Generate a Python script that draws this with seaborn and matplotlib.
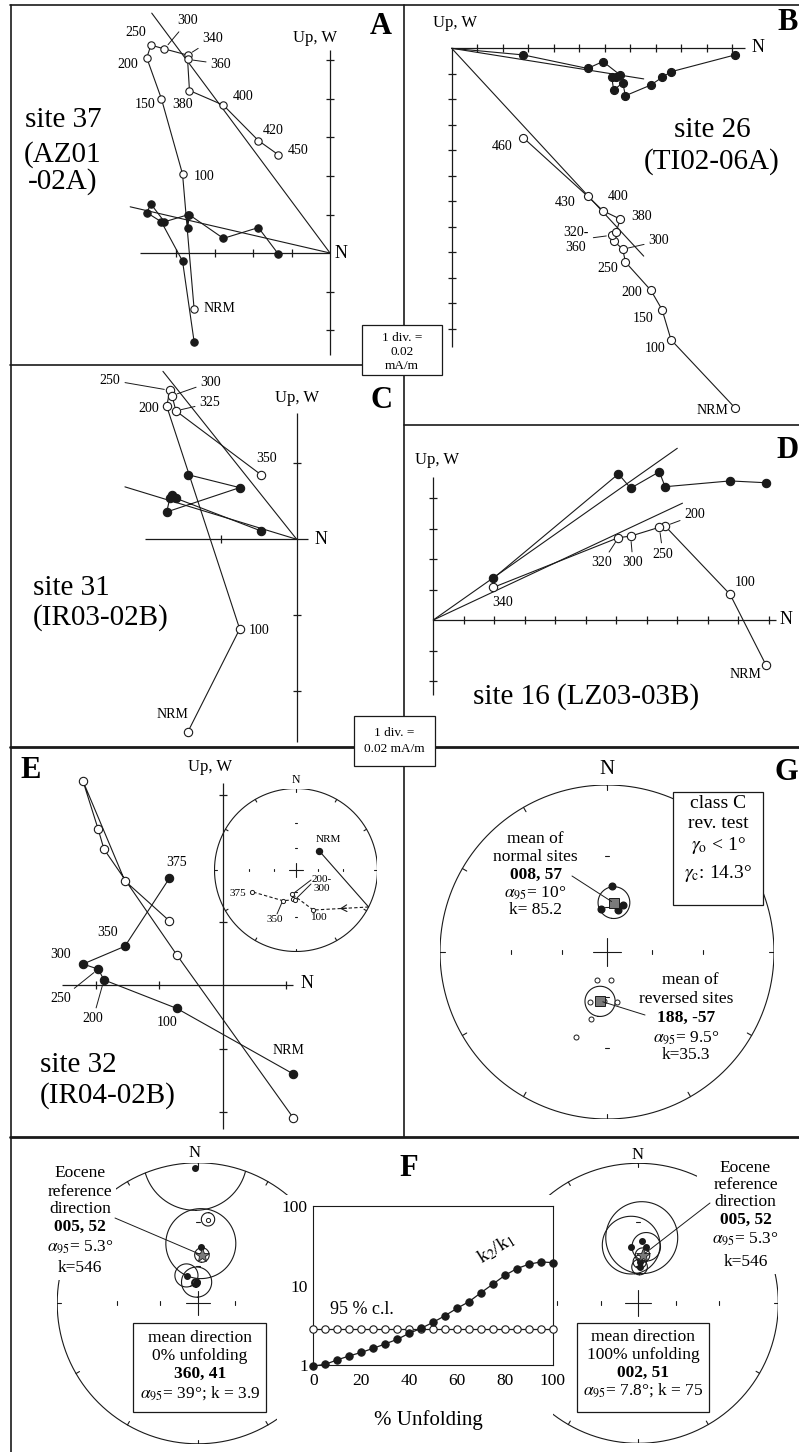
import numpy as np
import pandas as pd
import matplotlib
matplotlib.use("Agg")
import matplotlib.pyplot as plt
from matplotlib.patches import Rectangle
from matplotlib.ticker import FixedLocator, NullFormatter
import seaborn as sns

# ------------------------------------------------------------------ data
# Orthogonal projections in scale divisions (1 div. = 0.02 mA/m).
# North is shared; "up" = vertical plane (open), "west" = horizontal plane (filled).
a_steps = ["NRM", "100", "150", "200", "250", "300", "340", "360", "380", "400", "420", "450"]
a_north = [-3.53, -3.83, -4.38, -4.76, -4.65, -4.30, -3.70, -3.70, -3.65, -2.77, -1.86, -1.34]
a_up = [-1.45, 2.05, 4.01, 5.07, 5.40, 5.30, 5.14, 5.03, 4.22, 3.84, 2.92, 2.55]
a_west = [-2.30, -0.21, 0.81, 1.05, 1.27, 0.81, 0.99, 0.64, 0.99, 0.38, 0.66, -0.03]
a_fit_up = (-4.63, 6.23)
a_fit_w = (-5.19, 1.20)

b_steps = ["NRM", "100", "150", "200", "250", "300", "320", "340", "360", "380", "400", "430", "460"]
b_north = [11.11, 8.60, 8.25, 7.81, 6.81, 6.71, 6.35, 6.28, 6.45, 6.61, 5.93, 5.33, 2.81]
b_up = [-14.10, -11.43, -10.25, -9.49, -8.38, -7.88, -7.55, -7.33, -7.20, -6.70, -6.37, -5.80, -3.51]
b_west = [-0.26, -0.92, -1.14, -1.44, -1.86, -1.35, -1.64, -1.14, -1.14, -1.05, -0.52, -0.79, -0.26]
b_fit_up = (7.53, -8.15)
b_fit_w = (7.53, -1.20)

c_steps = ["NRM", "100", "200", "250", "300", "325", "350"]
c_north = [-1.43, -0.75, -1.71, -1.67, -1.64, -1.59, -0.47]
c_up = [-2.53, -1.18, 1.75, 1.96, 1.89, 1.69, 0.85]
c_west = [0.85, 0.68, 0.36, 0.54, 0.58, 0.54, 0.11]
c_fit_up = (-1.76, 2.21)
c_fit_w = (-2.26, 0.69)

d_steps = ["NRM", "100", "200", "250", "300", "320", "340"]
d_north = [10.91, 9.73, 7.60, 7.41, 6.47, 6.07, 1.97]
d_up = [-1.48, 0.84, 3.08, 3.04, 2.75, 2.70, 1.07]
d_west = [4.50, 4.56, 4.37, 4.86, 4.32, 4.79, 1.37]
d_fit_up = (8.17, 3.83)
d_fit_w = (8.00, 5.63)

e_steps = ["NRM", "100", "200", "250", "300", "350", "375"]
e_north = [1.11, -0.72, -1.87, -1.96, -2.20, -1.54, -0.84]
e_up = [-2.09, 0.47, 2.14, 2.45, 3.21, 1.64, 1.01]
e_west = [-1.40, -0.37, 0.08, 0.25, 0.33, 0.61, 1.68]

# site 32 demagnetisation path on the stereonet (declination, inclination)
e_net_dec = [51.0, 156.6, 188.7, 185.3, 182.0, 203.4, 243.9]
e_net_inc = [49.5, -33.7, -56.4, -50.7, -49.8, -45.4, -27.7]
e_cross_dec = 117.0   # where the path passes through the horizontal

# reversal test: site means
g_norm_dec = [4, 352, 15, 19]
g_norm_inc = [47, 61, 61, 57]
g_rev_dec = [200, 172, 169, 193, 200, 199, 184]
g_rev_inc = [-70, -71, -56, -45, -33, -55, -57]
g_norm_mean = (8, 57, 10.0)
g_rev_mean = (188, -57, 9.5)

# fold test: site means with alpha95 before and after unfolding
f0_dec = [359, 7, 3, 338, 357, 355]
f0_inc = [2, -28, 46, 66, 73, 73.5]
f0_a95 = [21, 4, 24, 9, 12, 3]
f100_dec = [353, 3, 8, 2, 2]
f100_inc = [46, 42, 46, 61, 57]
f100_a95 = [20, 24, 10, 6, 5]
eocene_ref = (5, 52, 5.3)

unfold_pct = [0, 5, 10, 15, 20, 25, 30, 35, 40, 45, 50, 55, 60, 65, 70, 75, 80, 85, 90, 95, 100]
k_ratio = [0.97, 1.02, 1.16, 1.30, 1.44, 1.62, 1.84, 2.10, 2.50, 2.89, 3.44, 4.17, 5.16,
           6.25, 8.1, 10.4, 13.4, 16.3, 18.5, 19.8, 19.4]
crit95 = [2.84, 2.84, 2.84, 2.84, 2.84, 2.84, 2.84, 2.84, 2.84, 2.84, 2.84, 2.84, 2.84,
          2.84, 2.84, 2.84, 2.84, 2.84, 2.84, 2.84, 2.84]

# ------------------------------------------------------------------ style
sns.set_theme(style="white")
plt.rcParams["font.family"] = ["Liberation Serif", "DejaVu Serif"]
plt.rcParams["mathtext.fontset"] = "stix"
plt.rcParams["text.color"] = "black"
plt.rcParams["xtick.color"] = "black"
plt.rcParams["ytick.color"] = "black"
plt.rcParams["axes.edgecolor"] = "black"

W, H = 799, 1452
fig = plt.figure(figsize=(W / 100, H / 100), dpi=100)
fig.patch.set_facecolor("white")

# pixel-space layer on top for frames, captions and boxes
ov = fig.add_axes([0, 0, 1, 1], zorder=10)
ov.set_xlim(0, W)
ov.set_ylim(H, 0)
ov.axis("off")

LW = 0.8


def txt(x, y, s, fs=12, **kw):
    kw.setdefault("ha", "center")
    kw.setdefault("va", "center")
    return ov.text(x, y, s, fontsize=fs, zorder=6, **kw)


def zij(box, origin, s, north, up, west, x_ext, y_ext, xt, yt,
        fit_up=None, fit_w=None, w_home=False, ms=5.8):
    l, t, r, b = box
    ax = fig.add_axes([l / W, 1 - b / H, (r - l) / W, (b - t) / H])
    ax.set_xlim((l - origin[0]) / s, (r - origin[0]) / s)
    ax.set_ylim((origin[1] - b) / s, (origin[1] - t) / s)
    ax.axis("off")
    tl = 4.0 / s
    kw = dict(color="k", lw=0.9, solid_capstyle="butt")
    ax.plot(x_ext, [0, 0], **kw)
    ax.plot([0, 0], y_ext, **kw)
    for v in xt:
        ax.plot([v, v], [-tl, tl], **kw)
    for v in yt:
        ax.plot([-tl, tl], [v, v], **kw)
    for f in (fit_up, fit_w):
        if f is not None:
            ax.plot([0, f[0]], [0, f[1]], color="k", lw=LW)
    if w_home:
        ax.plot([0, north[-1]], [0, west[-1]], color="k", lw=LW)
    ax.plot(north, west, color="k", lw=LW, marker="o", ms=ms, mfc="k", mec="k",
            mew=0.8, zorder=3, clip_on=False)
    ax.plot(north, up, color="k", lw=LW, marker="o", ms=ms, mfc="w", mec="k",
            mew=0.8, zorder=4, clip_on=False)
    return ax


def tag(ax, text, pos, target=None, fs=10):
    if target is None:
        txt(pos[0], pos[1], text, fs=fs)
    else:
        ax.annotate(text, xy=target, xytext=pos, textcoords=ov.transData,
                    ha="center", va="center", fontsize=fs, zorder=6,
                    arrowprops=dict(arrowstyle="-", color="k", lw=0.7,
                                    shrinkA=1, shrinkB=4))


def wulff(dec, inc):
    d = np.radians(np.asarray(dec, float))
    r = np.tan(np.radians(90.0 - np.abs(np.asarray(inc, float))) / 2)
    return r * np.sin(d), r * np.cos(d)


def cone(dec, inc, a95, n=361):
    d, i, a = np.radians(dec), np.radians(inc), np.radians(a95)
    v = np.array([np.cos(i) * np.cos(d), np.cos(i) * np.sin(d), np.sin(i)])
    e1 = np.array([-np.sin(i) * np.cos(d), -np.sin(i) * np.sin(d), np.cos(i)])
    e2 = np.cross(v, e1)
    t = np.linspace(0, 2 * np.pi, n)
    p = np.cos(a) * v[:, None] + np.sin(a) * (np.cos(t) * e1[:, None] + np.sin(t) * e2[:, None])
    pinc = np.degrees(np.arcsin(np.clip(p[2], -1, 1)))
    pdec = np.degrees(np.arctan2(p[1], p[0]))
    x, y = wulff(pdec, pinc)
    flip = np.sign(pinc) != np.sign(inc if inc != 0 else 1)
    x[flip] = np.nan
    y[flip] = np.nan
    return x, y


def net_axes(cx, cy, R, tick=4, cross=12, mark=2.0):
    ax = fig.add_axes([(cx - R) / W, 1 - (cy + R) / H, 2 * R / W, 2 * R / H])
    ax.set_xlim(-1, 1)
    ax.set_ylim(-1, 1)
    ax.axis("off")
    t = np.linspace(0, 2 * np.pi, 721)
    ax.plot(np.sin(t), np.cos(t), "k-", lw=LW)
    k = tick / R
    for az in range(0, 360, 30):
        a = np.radians(az)
        r0, r1 = (1 - k, 1 + k) if az % 90 == 0 else (1 - k, 1.0)
        ax.plot([r0 * np.sin(a), r1 * np.sin(a)], [r0 * np.cos(a), r1 * np.cos(a)], "k-", lw=LW)
    c = cross / R
    ax.plot([-c, c], [0, 0], "k-", lw=LW)
    ax.plot([0, 0], [-c, c], "k-", lw=LW)
    m = mark / R
    for az in (0, 90, 180, 270):
        a = np.radians(az)
        for inc in (60, 30):
            x, y = wulff(az, inc)
            ax.plot([x - m * np.cos(a), x + m * np.cos(a)],
                    [y + m * np.sin(a), y - m * np.sin(a)], "k-", lw=LW)
    return ax


def leader(ax_from, xy, pos):
    ov.annotate("", xy=xy, xycoords=ax_from.transData, xytext=pos, textcoords="data",
                zorder=6, arrowprops=dict(arrowstyle="-", color="k", lw=0.7,
                                          shrinkA=0, shrinkB=2))


# ------------------------------------------------------------------ frames
thin, thick = 1.2, 2.0
ov.plot([10.5, 10.5], [5, H], "k-", lw=thin)
ov.plot([10, W], [5, 5], "k-", lw=thin)
ov.plot([404, 404], [5, 1137], "k-", lw=thin)
ov.plot([10, 404], [365, 365], "k-", lw=thin)
ov.plot([404, W], [425, 425], "k-", lw=thin)
ov.plot([10, W], [747, 747], "k-", lw=thick)
ov.plot([10, W], [1137, 1137], "k-", lw=thick)

for (x0, y0, x1, y1) in [(362, 325, 442, 375), (354, 716, 435, 766)]:
    ov.add_patch(Rectangle((x0, y0), x1 - x0, y1 - y0, fc="w", ec="k", lw=0.9, zorder=5))
txt(402, 338, "1 div. =", fs=9.5)
txt(402, 352, "0.02", fs=9.5)
txt(402, 366, "mA/m", fs=9.5)
txt(394.5, 733, "1 div. =", fs=9.5)
txt(394.5, 749, "0.02 mA/m", fs=9.5)

for letter, x, y in [("A", 381, 27), ("B", 777, 23), ("C", 381, 400), ("D", 776, 450),
                     ("E", 31, 770), ("F", 409, 1169), ("G", 775, 772)]:
    txt(x, y, letter, fs=22, fontweight="bold", ha="center" if letter in "ACEF" else "left")

# ------------------------------------------------------------------ panel A
axA = zij((11, 5, 404, 365), (330, 253), 38.5, a_north, a_up, a_west,
          (-4.94, 0), (5.27, -2.65), [-4, -3, -2, -1], [5, 4, 3, 2, 1, -1, -2],
          fit_up=a_fit_up, fit_w=a_fit_w, ms=5.3)
ia = a_steps.index
for lab, pos, lead in [("250", (136, 32), False), ("300", (188, 21), True),
                       ("340", (213, 39), True), ("360", (221, 64), True),
                       ("200", (128, 65), False), ("150", (145, 105), False),
                       ("380", (183, 105), False), ("400", (243, 97), False),
                       ("420", (273, 130), False), ("450", (298, 151), False),
                       ("100", (204, 176), False), ("NRM", (219, 309), False)]:
    tg = (a_north[ia(lab)], a_up[ia(lab)]) if lead else None
    tag(axA, lab, pos, tg)
txt(315, 38, "Up, W", fs=12)
txt(341, 253, "N", fs=13)
txt(63, 120, "site 37", fs=21)
txt(63, 155, "(AZ01", fs=21)
txt(63, 182, "-02A)", fs=21)

# ------------------------------------------------------------------ panel B
axB = zij((404, 5, W, 425), (451.7, 48.3), 25.5, b_north, b_up, b_west,
          (0, 11.5), (0, -11.7), list(range(1, 12)), list(range(-1, -12, -1)),
          fit_up=b_fit_up, fit_w=b_fit_w, w_home=True, ms=5.8)
ib = b_steps.index
for lab, pos, tgt in [("460", (502, 146), None), ("430", (565, 202), None),
                      ("400", (618, 197), None), ("380", (642, 216), None),
                      ("320-\n360", (576, 240), "340"), ("300", (659, 241), "300"),
                      ("250", (608, 268), None), ("200", (632, 293), None),
                      ("150", (643, 318), None), ("100", (655, 349), None),
                      ("NRM", (712, 411), None)]:
    tg = (b_north[ib(tgt)], b_up[ib(tgt)]) if tgt else None
    tag(axB, lab, pos, tg)
txt(455, 23, "Up, W", fs=12)
txt(758, 47, "N", fs=13)
txt(712, 130, "site 26", fs=21)
txt(712, 162, "(TI02-06A)", fs=21)

# ------------------------------------------------------------------ panel C
axC = zij((11, 365, 404, 747), (296.7, 539.3), 76, c_north, c_up, c_west,
          (-2.0, 0.15), (1.66, -2.67), [-1], [1, -1, -2],
          fit_up=c_fit_up, fit_w=c_fit_w, ms=6.0)
ic = c_steps.index
for lab, pos, lead in [("NRM", (172, 715), False), ("100", (259, 630), False),
                       ("200", (149, 408), False), ("250", (110, 380), True),
                       ("300", (211, 382), True), ("325", (210, 403), True),
                       ("350", (267, 458), False)]:
    tg = (c_north[ic(lab)], c_up[ic(lab)]) if lead else None
    tag(axC, lab, pos, tg)
txt(297, 398, "Up, W", fs=12)
txt(321, 539, "N", fs=13)
txt(33, 588, "site 31", fs=21, ha="left")
txt(33, 618, "(IR03-02B)", fs=21, ha="left")

# ------------------------------------------------------------------ panel D
axD = zij((404, 425, W, 747), (433.3, 620), 30.5, d_north, d_up, d_west,
          (0, 11.24), (4.7, -2.47), list(range(1, 12)), [4, 3, 2, 1, -1, -2],
          fit_up=d_fit_up, fit_w=d_fit_w, ms=6.0)
idd = d_steps.index
for lab, pos, lead in [("200", (695, 515), True), ("250", (663, 554), True),
                       ("300", (633, 563), True), ("320", (602, 563), True),
                       ("340", (503, 602), False), ("100", (745, 582), False),
                       ("NRM", (745, 675), False)]:
    tg = (d_north[idd(lab)], d_up[idd(lab)]) if lead else None
    tag(axD, lab, pos, tg)
txt(437, 460, "Up, W", fs=12)
txt(786, 620, "N", fs=13)
txt(586, 697, "site 16 (LZ03-03B)", fs=21)

# ------------------------------------------------------------------ panel E
axE = zij((11, 747, 404, 1137), (222.7, 985), 63.5, e_north, e_up, e_west,
          (-2.53, 1.10), (3.18, -2.27), [-2, -1, 1], [3, 1, -1, -2], ms=6.0)
ie = e_steps.index
for lab, pos, lead in [("375", (177, 862), False), ("350", (108, 933), False),
                       ("300", (61, 954), False), ("250", (61, 999), True),
                       ("200", (93, 1019), True), ("100", (167, 1023), False),
                       ("NRM", (288, 1050), False)]:
    tg = (e_north[ie(lab)], e_west[ie(lab)]) if lead else None
    tag(axE, lab, pos, tg)
txt(210, 767, "Up, W", fs=12)
txt(307, 984, "N", fs=13)
txt(40, 1065, "site 32", fs=21, ha="left")
txt(40, 1096, "(IR04-02B)", fs=21, ha="left")

# stereonet of the site 32 path
axEn = net_axes(296, 870, 81.5, tick=3, cross=7, mark=1.2)
ex, ey = wulff(e_net_dec, e_net_inc)
cxp, cyp = wulff(e_cross_dec, 0.0)
axEn.plot([ex[0], cxp], [ey[0], cyp], "k-", lw=LW)
axEn.plot(np.r_[cxp, ex[1:]], np.r_[cyp, ey[1:]], "k-", lw=LW, dashes=(3, 2))
pa = (cxp + 0.52 * (ex[1] - cxp), cyp + 0.52 * (ey[1] - cyp))
pb = (cxp + 0.40 * (ex[1] - cxp), cyp + 0.40 * (ey[1] - cyp))
axEn.annotate("", xy=pa, xytext=pb,
              arrowprops=dict(arrowstyle="->,head_length=0.35,head_width=0.2", lw=0.8, color="k",
                              shrinkA=0, shrinkB=0))
axEn.plot(ex[0], ey[0], "o", ms=4.3, mfc="k", mec="k", zorder=4)
axEn.plot(ex[1:], ey[1:], "o", ms=3.0, mfc="w", mec="k", mew=0.7, zorder=4)
txt(296, 780, "N", fs=8.5)
txt(328, 839, "NRM", fs=8)
txt(238, 893, "375", fs=8)
txt(319, 918, "100", fs=8)
txt(275, 920, "350", fs=8)
leader(axEn, (ex[5], ey[5]), (277, 914))
txt(322, 884, "200-\n300", fs=8, linespacing=0.95)
leader(axEn, (ex[2], ey[2]), (311, 880))
leader(axEn, (ex[4], ey[4]), (311, 884))

# ------------------------------------------------------------------ panel G
axG = net_axes(607, 952, 167, tick=5, cross=14, mark=2.0)
for m in (g_norm_mean, g_rev_mean):
    x, y = cone(*m)
    axG.plot(x, y, "k-", lw=LW)
gx, gy = wulff(g_norm_dec, g_norm_inc)
axG.plot(gx, gy, "o", ms=4.8, mfc="k", mec="k", zorder=4)
rx, ry = wulff(g_rev_dec, g_rev_inc)
axG.plot(rx, ry, "o", ms=3.6, mfc="w", mec="k", mew=0.7, zorder=4)
nmx, nmy = wulff(g_norm_mean[0], g_norm_mean[1])
rmx, rmy = wulff(g_rev_mean[0], g_rev_mean[1])
axG.plot([nmx, rmx], [nmy, rmy], "s", ms=6.5, mfc="#7a7a7a", mec="k", mew=0.7, zorder=5)
leader(axG, (nmx, nmy), (572, 876))
leader(axG, (rmx, rmy), (645, 1015))
txt(607, 770, "N", fs=15)
for s, y, kw in [("mean of", 839, {}), ("normal sites", 857, {}),
                 ("008, 57", 875, {"fontweight": "bold"}),
                 (r"$\alpha_{95}$= 10°", 893, {}), ("k= 85.2", 910, {})]:
    txt(535.5, y, s, fs=12.5, **kw)
txt(690, 980, "mean of", fs=12.5)
for s, y, kw in [("reversed sites", 999, {}), ("188, -57", 1018, {"fontweight": "bold"}),
                 (r"$\alpha_{95}$= 9.5°", 1038, {}), ("k=35.3", 1055, {})]:
    txt(686, y, s, fs=12.5, **kw)
ov.add_patch(Rectangle((672.7, 791.7), 90.6, 113.3, fc="w", ec="k", lw=0.9, zorder=5))
txt(718, 804, "class C", fs=14)
txt(718, 823, "rev. test", fs=14)
txt(718, 845, r"$\gamma_{\rm o}$ < 1°", fs=14)
txt(718, 874, r"$\gamma_{\rm c}$: 14.3°", fs=14)

# ------------------------------------------------------------------ panel F: stereonets
def site_means(ax, decs, incs, a95s):
    for d, i, a in zip(decs, incs, a95s):
        x, y = cone(d, i, a)
        ax.plot(x, y, "k-", lw=1.6 if a < 4 else LW)
        px, py = wulff(d, i)
        if i >= 0:
            ax.plot(px, py, "o", ms=4.0, mfc="k", mec="k", zorder=4)
        else:
            ax.plot(px, py, "o", ms=3.0, mfc="w", mec="k", mew=0.7, zorder=4)


def eocene(ax):
    x, y = cone(*eocene_ref)
    ax.plot(x, y, "k-", lw=LW)
    sx, sy = wulff(eocene_ref[0], eocene_ref[1])
    ax.plot(sx, sy, "*", ms=10, mfc="#7a7a7a", mec="k", mew=0.6, zorder=5)
    return sx, sy


axF0 = net_axes(197.7, 1303.3, 140.5, tick=4, cross=12, mark=2.0)
site_means(axF0, f0_dec, f0_inc, f0_a95)
s0 = eocene(axF0)
axF1 = net_axes(638.3, 1303.3, 140, tick=4, cross=13, mark=2.0)
site_means(axF1, f100_dec, f100_inc, f100_a95)
s1 = eocene(axF1)

txt(195, 1153, "N", fs=12)
txt(638, 1155, "N", fs=12)

ov.add_patch(Rectangle((44, 1160), 72, 120, fc="w", ec="none", zorder=5))
ov.add_patch(Rectangle((697, 1158), 100, 116, fc="w", ec="none", zorder=5))
leader(axF0, s0, (115, 1218))
leader(axF1, s1, (710, 1203))

eoc_lines = ["Eocene", "reference", "direction", "005, 52", r"$\alpha_{95}$= 5.3°", "k=546"]
for s, y in zip(eoc_lines, [1173, 1192, 1209, 1227, 1247, 1268]):
    txt(80, y, s, fs=12.5, fontweight="bold" if s == "005, 52" else "normal")
for s, y in zip(eoc_lines, [1168, 1185, 1202, 1220, 1239, 1262]):
    txt(745.5, y, s, fs=12.5, fontweight="bold" if s == "005, 52" else "normal")

ov.add_patch(Rectangle((133.3, 1322.7), 132.7, 89, fc="w", ec="k", lw=0.9, zorder=5))
for s, y, w in [("mean direction", 1338, "normal"), ("0% unfolding", 1356, "normal"),
                ("360, 41", 1374, "bold"), (r"$\alpha_{95}$= 39°; k = 3.9", 1394, "normal")]:
    txt(199.7, y, s, fs=12.5, fontweight=w)
ov.add_patch(Rectangle((577.3, 1322.7), 132, 89, fc="w", ec="k", lw=0.9, zorder=5))
for s, y, w in [("mean direction", 1337, "normal"), ("100% unfolding", 1355, "normal"),
                ("002, 51", 1373, "bold"), (r"$\alpha_{95}$= 7.8°; k = 75", 1391, "normal")]:
    txt(643.3, y, s, fs=12.5, fontweight=w)

# ------------------------------------------------------------------ panel F: fold test
# white backing so the two nets pass behind the graph and its labels
bg = fig.add_axes([277 / W, 1 - 1422 / H, (553 - 277) / W, (1422 - 1195) / H])
bg.set_facecolor("white")
bg.set_xticks([])
bg.set_yticks([])
for sp in bg.spines.values():
    sp.set_visible(False)

axF = fig.add_axes([313.3 / W, 1 - 1365 / H, (552.7 - 313.3) / W, (1365 - 1206) / H])
df_fold = pd.DataFrame({"unfolding": unfold_pct, "k_ratio": k_ratio, "crit95": crit95})
sns.lineplot(data=df_fold, x="unfolding", y="crit95", ax=axF, color="k", lw=0.9,
             marker="o", markersize=5.3, markerfacecolor="w", markeredgecolor="k",
             markeredgewidth=0.8, clip_on=False, zorder=3)
sns.lineplot(data=df_fold, x="unfolding", y="k_ratio", ax=axF, color="k", lw=0.9,
             marker="o", markersize=5.3, markerfacecolor="k", markeredgecolor="k",
             clip_on=False, zorder=4)
axF.set_yscale("log")
axF.set_xlim(0, 100)
axF.set_ylim(1, 100)
axF.set_xticks([0, 20, 40, 60, 80, 100])
axF.xaxis.set_minor_locator(FixedLocator([10, 30, 50, 70, 90]))
axF.set_yticks([1, 10, 100])
axF.set_yticklabels(["1", "10", "100"])
axF.yaxis.set_minor_formatter(NullFormatter())
axF.tick_params(axis="x", which="both", direction="in", length=5, width=0.8,
                labelsize=12.5, pad=6, top=False)
axF.tick_params(axis="y", which="major", direction="in", length=6, width=0.8,
                labelsize=12.5, pad=4, right=False)
axF.tick_params(axis="y", which="minor", direction="in", length=3, width=0.6, right=False)
axF.set_xlabel("")
axF.set_ylabel("")
axF.grid(False)
for sp in axF.spines.values():
    sp.set_color("k")
    sp.set_linewidth(0.8)
axF.set_facecolor("none")

txt(428, 1420, "% Unfolding", fs=15)
txt(362, 1310, "95 % c.l.", fs=13)
txt(496, 1249, r"k$_2$/k$_1$", fs=14, rotation=32)

fig.savefig("out.png", dpi=100, facecolor="white")
